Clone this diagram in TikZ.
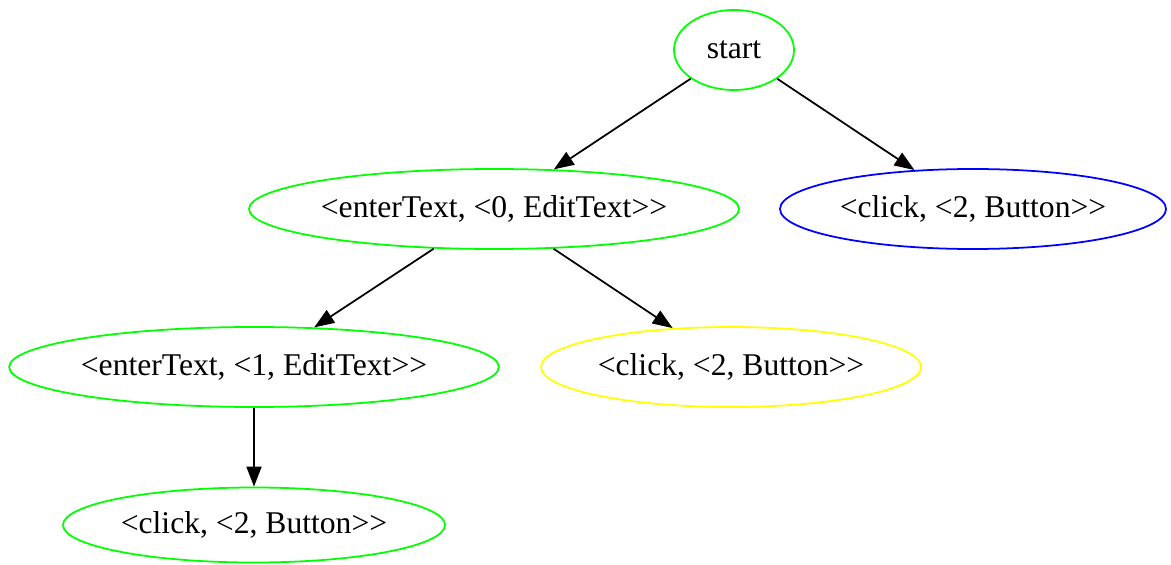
\documentclass[tikz,border=0pt]{standalone}
\usepackage{fontspec}
\setmainfont{Liberation Serif}
\usepackage{xcolor}
\definecolor{gvgreen}{RGB}{0,255,0}
\definecolor{gvblue}{RGB}{0,0,255}
\definecolor{gvyellow}{RGB}{255,255,0}
\usetikzlibrary{arrows.meta, shapes.geometric}

\tikzset{
  state/.style={ellipse, draw, line width=1pt, inner sep=0pt, minimum height=1.6cm,
    font=\fontsize{18}{21}\selectfont},
  edge/.style={line width=1pt, -{Triangle[length=0.4cm, width=0.3cm]}}
}

\begin{document}
\begin{tikzpicture}
  \useasboundingbox (0,0) rectangle (23.42,11.28);

  % States
  \node[state, gvgreen, text=black, minimum width=2.4cm] (start) at (14.68,10.28) {start};
  \node[state, gvgreen, text=black, minimum width=9.8cm] (enter0) at (9.88,7.1) {<enterText, <0, EditText>{}>};
  \node[state, gvblue, text=black, minimum width=7.72cm] (clickA) at (19.46,7.1) {<click, <2, Button>{}>};
  \node[state, gvgreen, text=black, minimum width=9.78cm] (enter1) at (5.08,3.94) {<enterText, <1, EditText>{}>};
  \node[state, gvyellow, text=black, minimum width=7.6cm] (clickB) at (14.62,3.94) {<click, <2, Button>{}>};
  \node[state, gvgreen, text=black, minimum width=7.64cm, minimum height=1.5cm] (clickC) at (5.08,0.78) {<click, <2, Button>{}>};

  % Transitions
  \draw[edge] (start) -- (enter0);
  \draw[edge] (start) -- (clickA);
  \draw[edge] (enter0) -- (enter1);
  \draw[edge] (enter0) -- (clickB);
  \draw[edge] (enter1) -- (clickC);
\end{tikzpicture}
\end{document}
